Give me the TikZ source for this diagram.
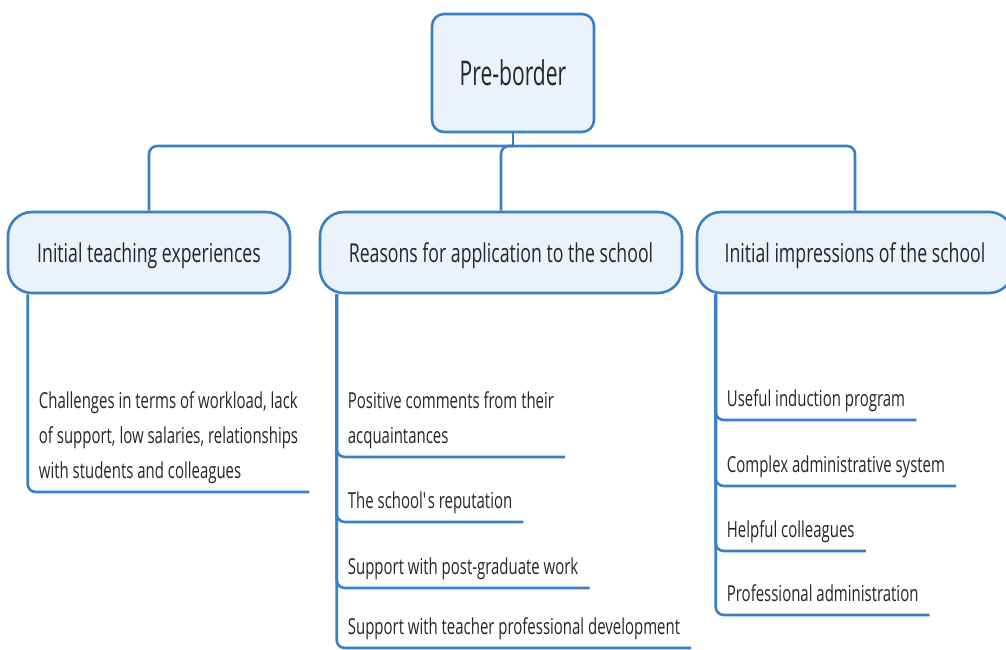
\documentclass[tikz,border=0pt]{standalone}
\usepackage{fontspec}
\setmainfont{Open Sans}[FakeStretch=0.68]
\newfontfamily\centralfont{Open Sans}[FakeStretch=0.62]
\usetikzlibrary{calc}
\definecolor{mmblue}{RGB}{58,128,196}
\definecolor{mmfill}{RGB}{235,242,249}
\definecolor{mmtext}{RGB}{38,38,38}

\begin{document}
\begin{tikzpicture}[x=1pt,y=-1pt,
  rootbox/.style={draw=mmblue, fill=mmfill, line width=2.6pt, rounded corners=12pt,
    minimum width=162pt, minimum height=118pt, text=mmtext,
    font=\centralfont\fontsize{34}{40}\selectfont},
  topic/.style={draw=mmblue, fill=mmfill, line width=2.6pt, rounded corners=24pt,
    minimum height=81pt, text height=20pt, text depth=0pt, text=mmtext,
    font=\fontsize{26}{30}\selectfont},
  leaf/.style={anchor=south west, align=left, inner xsep=11pt, inner ysep=3pt,
    text=mmtext, font=\fontsize{22}{35}\selectfont},
  link/.style={draw=mmblue, line width=2.6pt, rounded corners=8pt},
]
\useasboundingbox (0,0) rectangle (1006,649);
\clip (0,0) rectangle (1006,649);

% central topic
\node[rootbox] (root) at (513,73) {Pre-border};

% main branches
\node[topic, minimum width=282pt] (A) at (149,252.5) {Initial teaching experiences};
\node[topic, minimum width=362pt] (B) at (501,252.5) {Reasons for application to the school};
\node[topic, minimum width=316pt] (C) at (855,252.5) {Initial impressions of the school};

\coordinate (hub) at (513,146);
\draw[link] (root.south) -- (hub);
\draw[link] (A.north) |- (hub);
\draw[link] (B.north) |- (hub);
\draw[link] (C.north) |- (hub);

% spines under each branch
\coordinate (Av) at ($(A.south west)+(21,0)$);
\coordinate (Bv) at ($(B.south west)+(18,0)$);
\coordinate (Cv) at ($(C.south west)+(20,0)$);

% leaves of the first branch
\node[leaf] (a1) at (Av |- 0,492) {Challenges in terms of workload, lack\\of support, low salaries, relationships\\with students and colleagues\strut};
\draw[link] (Av) |- (a1.south east);

% leaves of the second branch
\node[leaf] (b1) at (Bv |- 0,457) {Positive comments from their\\acquaintances\strut};
\node[leaf] (b2) at (Bv |- 0,522) {The school\textquotesingle s reputation\strut};
\node[leaf] (b3) at (Bv |- 0,588) {Support with post-graduate work\strut};
\node[leaf] (b4) at (Bv |- 0,648) {Support with teacher professional development\strut};
\foreach \n in {b1,b2,b3,b4} \draw[link] (Bv) |- (\n.south east);

% leaves of the third branch
\node[leaf] (c1) at (Cv |- 0,420) {Useful induction program\strut};
\node[leaf] (c2) at (Cv |- 0,486) {Complex administrative system\strut};
\node[leaf] (c3) at (Cv |- 0,551) {Helpful colleagues\strut};
\node[leaf] (c4) at (Cv |- 0,615) {Professional administration\strut};
\foreach \n in {c1,c2,c3,c4} \draw[link] (Cv) |- (\n.south east);
\end{tikzpicture}
\end{document}
